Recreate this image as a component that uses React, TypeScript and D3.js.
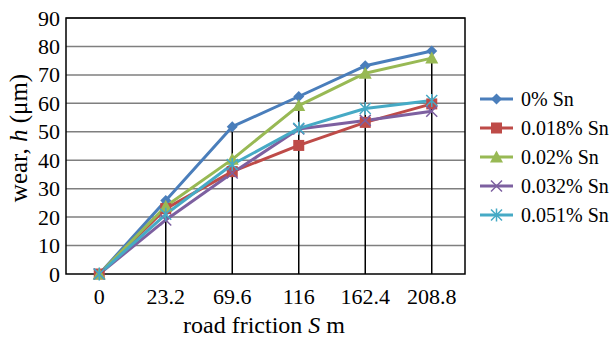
import React from "react";
import * as d3 from "d3";

const categories = ["0", "23.2", "69.6", "116", "162.4", "208.8"];
const seriesNames = ["0% Sn", "0.018% Sn", "0.02% Sn", "0.032% Sn", "0.051% Sn"];
const sn0 = [0, 25.8, 51.8, 62.4, 73.2, 78.4];
const sn018 = [0, 23, 36, 45.2, 53.3, 59.8];
const sn02 = [0, 23.8, 40.3, 59.2, 70.6, 75.9];
const sn032 = [0, 19, 35.5, 51, 54, 57.2];
const sn051 = [0, 21, 38.5, 51.2, 58.2, 61];
const yTicks = [0, 10, 20, 30, 40, 50, 60, 70, 80, 90];
const colors = ["#4a7ebb", "#be4b48", "#98b954", "#7d60a0", "#46aac5"];
const markers = ["diamond", "square", "triangle", "x", "star"];

const W = 615, H = 337;
const left = 66, right = 465, top = 18, bottom = 274;
const FONT = "Liberation Serif";

function Marker({ type, x, y, color }: { type: string; x: number; y: number; color: string }) {
  if (type === "diamond") {
    const s = 5.5;
    return <path d={`M${x},${y - s}L${x + s},${y}L${x},${y + s}L${x - s},${y}Z`} fill={color} />;
  }
  if (type === "square") {
    return <rect x={x - 5.5} y={y - 5.5} width={11} height={11} fill={color} />;
  }
  if (type === "triangle") {
    return <path d={`M${x},${y - 6.5}L${x + 6.5},${y + 5.5}L${x - 6.5},${y + 5.5}Z`} fill={color} />;
  }
  if (type === "x") {
    const s = 5.5;
    return <path d={`M${x - s},${y - s}L${x + s},${y + s}M${x - s},${y + s}L${x + s},${y - s}`} stroke={color} strokeWidth={1.5} />;
  }
  const s = 5.5;
  return (
    <path
      d={`M${x - s},${y - s}L${x + s},${y + s}M${x - s},${y + s}L${x + s},${y - s}M${x},${y - s - 1}L${x},${y + s + 1}`}
      stroke={color}
      strokeWidth={1.5}
    />
  );
}

export default function App() {
  const data = [sn0, sn018, sn02, sn032, sn051];
  const x = d3.scaleBand<string>().domain(categories).range([left, right]);
  const cx = (c: string) => (x(c) as number) + x.bandwidth() / 2;
  const y = d3.scaleLinear().domain([0, 90]).range([bottom, top]);
  const line = d3
    .line<number>()
    .x((_, i) => cx(categories[i]))
    .y((d) => y(d));
  const maxes = categories.map((_, i) => d3.max(data, (s) => s[i]) as number);
  const ts = { fontFamily: FONT } as React.CSSProperties;

  return (
    <svg width={W} height={H} style={{ position: "absolute", left: 0, top: 0, background: "#fff" }}>
      <rect x={0} y={0} width={W} height={H} fill="#fff" />
      {yTicks.slice(1).map((t) => (
        <line key={t} x1={left} x2={right} y1={y(t)} y2={y(t)} stroke="#7f7f7f" strokeWidth={1.5} />
      ))}
      {categories.map((c, i) =>
        i === 0 ? null : (
          <line key={c} x1={cx(c)} x2={cx(c)} y1={y(maxes[i])} y2={bottom} stroke="#000" strokeWidth={1.5} />
        )
      )}
      <rect x={left} y={top} width={right - left} height={bottom - top} fill="none" stroke="#000" strokeWidth={1.5} />
      {data.map((s, k) => (
        <path key={k} d={line(s) as string} fill="none" stroke={colors[k]} strokeWidth={3} strokeLinejoin="round" />
      ))}
      {data.map((s, k) =>
        s.map((v, i) => <Marker key={`${k}-${i}`} type={markers[k]} x={cx(categories[i])} y={y(v)} color={colors[k]} />)
      )}
      {yTicks.map((t) => (
        <text key={t} x={60} y={y(t) + 7.5} textAnchor="end" fontSize={22} style={ts}>
          {t}
        </text>
      ))}
      {categories.map((c) => (
        <text key={c} x={cx(c)} y={304} textAnchor="middle" fontSize={22} style={ts}>
          {c}
        </text>
      ))}
      <text x={264} y={333} textAnchor="middle" fontSize={24} style={ts}>
        road friction <tspan fontStyle="italic">S</tspan> m
      </text>
      <text transform={`translate(27,138) rotate(-90)`} textAnchor="middle" fontSize={25} style={ts}>
        wear, <tspan fontStyle="italic">h</tspan> (μm)
      </text>
      {seriesNames.map((n, k) => {
        const ly = 99 + k * 29;
        return (
          <g key={n}>
            <line x1={480} x2={513} y1={ly} y2={ly} stroke={colors[k]} strokeWidth={3} />
            <Marker type={markers[k]} x={496.5} y={ly} color={colors[k]} />
            <text x={521} y={ly + 7} fontSize={20} style={ts}>
              {n}
            </text>
          </g>
        );
      })}
    </svg>
  );
}
